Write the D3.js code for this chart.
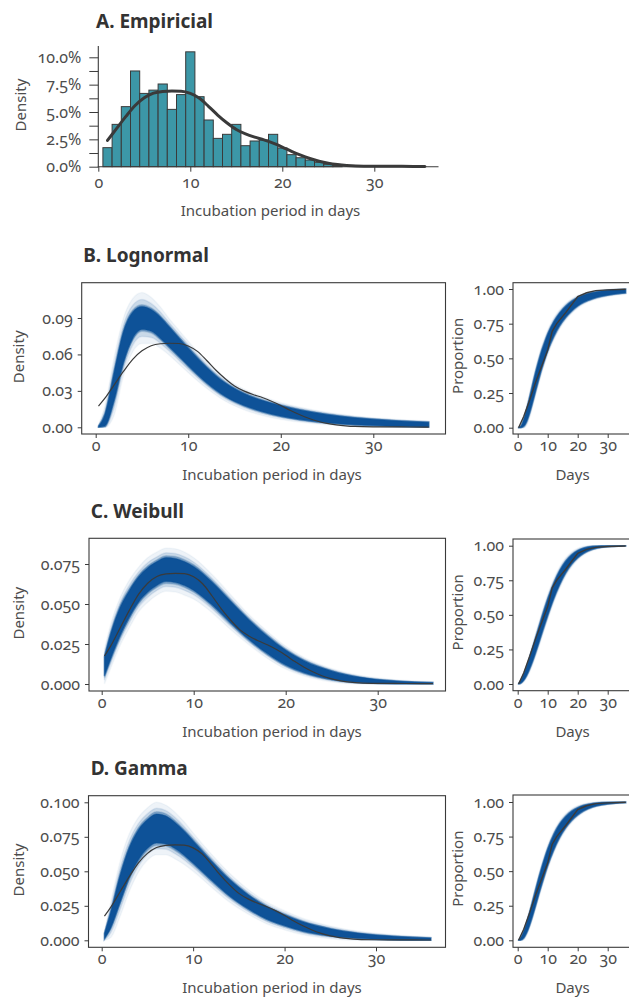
<!DOCTYPE html>
<html>
<head>
<meta charset="utf-8">
<script src="https://cdn.jsdelivr.net/npm/d3@7"></script>
<style>
  body { margin: 0; background: #fff; }
  svg { display: block; font-family: "Noto Sans", sans-serif; font-variant-numeric: oldstyle-nums; }
</style>
</head>
<body>
<svg id="chart" width="629" height="997"></svg>
<script>

// ---- data ----

// A. histogram, one-day bins centred on day 1..26 (percent of cases)
var histDays = d3.range(1, 27);
var histPct = [1.74, 3.87, 5.49, 8.75, 6.7, 7.0, 7.56, 5.24, 6.59, 10.5, 6.4, 4.27, 2.59,
               2.96, 3.87, 1.92, 2.35, 2.44, 2.96, 1.71, 1.1, 0.82, 0.61, 0.4, 0.22, 0.1];

// kernel density of the observed incubation periods (black line)
var kdeDays = [0.3, 1, 2, 3, 4, 5, 6, 7, 8, 9, 10, 11, 12, 13, 14, 15, 16, 17, 18, 19, 20,
               21, 22, 23, 24, 25, 26, 27, 28, 30, 33, 35.5, 36];
var kdeVals = [0.0175, 0.024, 0.035, 0.046, 0.056, 0.063, 0.0672, 0.0688, 0.0692, 0.069, 0.067,
               0.0625, 0.055, 0.047, 0.040, 0.034, 0.030, 0.027, 0.0245, 0.0215, 0.018,
               0.014, 0.0105, 0.0075, 0.005, 0.0032, 0.002, 0.0012, 0.0007, 0.0004, 0.0003,
               0.0002, 0.0002];

// observed cumulative proportion (black line, right panels)
var ecdfDays = [0.3, 2, 4, 6, 8, 10, 11.5, 13, 16, 20, 23, 26, 30, 36];
var ecdfVals = [0, 0.08, 0.2, 0.33, 0.445, 0.56, 0.695, 0.75, 0.83, 0.945, 0.973, 0.988, 0.994, 0.998];

// fitted posterior curves: centre of the dense band, half width of the dense band,
// half width of the faint halo
var modelDays = [0.3, 1, 2, 3, 4, 5, 6, 7, 8, 9, 10, 12, 14, 16, 18, 20, 22, 25, 28, 32, 36];

var lnPdfMid   = [0.000, 0.006, 0.034, 0.066, 0.084, 0.090, 0.088, 0.082, 0.074, 0.066, 0.058, 0.043,
                  0.031, 0.023, 0.0175, 0.0135, 0.0105, 0.0072, 0.005, 0.0033, 0.0022];
var lnPdfInner = [0.001, 0.005, 0.012, 0.013, 0.011, 0.0095, 0.009, 0.0088, 0.0083, 0.0078, 0.0074,
                  0.0065, 0.0056, 0.005, 0.0047, 0.0044, 0.004, 0.0034, 0.0029, 0.0024, 0.002];
var lnPdfOuter = [0.002, 0.012, 0.024, 0.024, 0.022, 0.021, 0.019, 0.017, 0.015, 0.014, 0.013, 0.011,
                  0.0095, 0.0085, 0.0078, 0.007, 0.0062, 0.0052, 0.0044, 0.0036, 0.003];
var lnCdfMid   = [0.000, 0.004, 0.035, 0.09, 0.165, 0.25, 0.335, 0.415, 0.49, 0.555, 0.615, 0.71,
                  0.782, 0.836, 0.877, 0.908, 0.93, 0.952, 0.966, 0.978, 0.985];
var lnCdfInner = [0.002, 0.006, 0.025, 0.045, 0.058, 0.065, 0.068, 0.068, 0.066, 0.063, 0.06, 0.053,
                  0.046, 0.04, 0.035, 0.03, 0.026, 0.022, 0.019, 0.016, 0.014];
var lnCdfOuter = [0.004, 0.015, 0.045, 0.075, 0.092, 0.1, 0.103, 0.103, 0.1, 0.096, 0.091, 0.081,
                  0.07, 0.061, 0.053, 0.046, 0.04, 0.034, 0.029, 0.025, 0.022];

var wbPdfMid   = [0.011, 0.024, 0.039, 0.050, 0.059, 0.065, 0.069, 0.0715, 0.071, 0.069, 0.066, 0.0565,
                  0.045, 0.034, 0.0245, 0.0165, 0.0108, 0.0055, 0.0026, 0.0009, 0.0003];
var wbPdfInner = [0.006, 0.008, 0.009, 0.0085, 0.008, 0.0077, 0.0075, 0.0075, 0.0075, 0.0075, 0.0075,
                  0.0072, 0.0068, 0.0062, 0.0055, 0.0047, 0.0038, 0.0027, 0.0017, 0.001, 0.0006];
var wbPdfOuter = [0.011, 0.014, 0.015, 0.015, 0.014, 0.014, 0.0135, 0.0135, 0.0135, 0.0135, 0.013,
                  0.012, 0.011, 0.0095, 0.0085, 0.0072, 0.0058, 0.0042, 0.0028, 0.0017, 0.0011];
var wbCdfMid   = [0.0015, 0.015, 0.048, 0.095, 0.152, 0.215, 0.283, 0.352, 0.422, 0.49, 0.555, 0.673,
                  0.770, 0.846, 0.901, 0.939, 0.964, 0.985, 0.994, 0.998, 1.0];
var wbCdfInner = [0.003, 0.01, 0.022, 0.033, 0.042, 0.049, 0.054, 0.057, 0.059, 0.06, 0.06, 0.056,
                  0.05, 0.042, 0.034, 0.026, 0.019, 0.011, 0.006, 0.003, 0.002];
var wbCdfOuter = [0.005, 0.016, 0.035, 0.052, 0.066, 0.077, 0.085, 0.09, 0.093, 0.094, 0.094, 0.088,
                  0.079, 0.067, 0.055, 0.043, 0.032, 0.02, 0.011, 0.006, 0.004];

var gmPdfMid   = [0.003, 0.015, 0.037, 0.056, 0.069, 0.077, 0.081, 0.080, 0.076, 0.0705, 0.064, 0.0505,
                  0.038, 0.028, 0.020, 0.0145, 0.010, 0.0058, 0.0033, 0.0016, 0.0008];
var gmPdfInner = [0.002, 0.006, 0.01, 0.011, 0.011, 0.0105, 0.0105, 0.0102, 0.0095, 0.0088, 0.0082,
                  0.007, 0.006, 0.0052, 0.0046, 0.004, 0.0034, 0.0026, 0.0019, 0.0013, 0.0009];
var gmPdfOuter = [0.004, 0.013, 0.02, 0.021, 0.02, 0.019, 0.019, 0.018, 0.017, 0.0155, 0.014, 0.012,
                  0.0105, 0.009, 0.008, 0.007, 0.006, 0.0046, 0.0034, 0.0024, 0.0017];
var gmCdfMid   = [0.0003, 0.01, 0.04, 0.092, 0.158, 0.233, 0.312, 0.39, 0.465, 0.535, 0.6, 0.709,
                  0.793, 0.855, 0.901, 0.933, 0.956, 0.977, 0.988, 0.995, 0.998];
var gmCdfInner = [0.002, 0.009, 0.024, 0.037, 0.047, 0.054, 0.058, 0.06, 0.061, 0.061, 0.06, 0.055,
                  0.048, 0.04, 0.033, 0.026, 0.02, 0.013, 0.009, 0.005, 0.003];
var gmCdfOuter = [0.004, 0.015, 0.038, 0.057, 0.071, 0.08, 0.086, 0.089, 0.091, 0.091, 0.089, 0.082,
                  0.072, 0.061, 0.051, 0.041, 0.032, 0.022, 0.015, 0.009, 0.006];

// tick labels
var dayTicks = [0, 10, 20, 30];
var pctTicks = d3.range(0, 0.1001, 0.0125);
var propTicks = [0, 0.25, 0.5, 0.75, 1];
var lnTicks = [0, 0.03, 0.06, 0.09];
var wbTicks = [0, 0.025, 0.05, 0.075];
var gmTicks = [0, 0.025, 0.05, 0.075, 0.1];


// ---- drawing ----

var svg = d3.select("#chart");
var BLUE = "#0a5096", TEAL = "#3c97a7", INK = "#3a3a3a", GREY = "#4d4d4d";

function heading(txt, x, y) {
  svg.append("text").attr("x", x).attr("y", y)
     .attr("font-size", 19).attr("font-weight", 700).attr("fill", "#333")
     .text(txt);
}

function xTitle(txt, cx, y) {
  svg.append("text").attr("x", cx).attr("y", y).attr("text-anchor", "middle")
     .attr("font-size", 15).attr("fill", GREY).text(txt);
}

function yTitle(txt, x, cy) {
  svg.append("text").attr("transform", "translate(" + x + "," + cy + ") rotate(-90)")
     .attr("text-anchor", "middle").attr("font-size", 15).attr("fill", GREY).text(txt);
}

function styleAxis(g) {
  g.select(".domain").remove();
  g.selectAll(".tick line").attr("stroke", INK);
  g.selectAll(".tick text").attr("fill", GREY).attr("font-size", 16)
   .attr("font-family", "Noto Sans, sans-serif");
}

function drawAxes(box, x, y, yVals, yFmt) {
  var gy = svg.append("g").attr("transform", "translate(" + box[0] + ",0)")
    .call(d3.axisLeft(y).tickValues(yVals).tickFormat(yFmt).tickSize(4).tickPadding(5));
  styleAxis(gy);
  var gx = svg.append("g").attr("transform", "translate(0," + box[3] + ")")
    .call(d3.axisBottom(x).tickValues(dayTicks).tickFormat(d3.format("d")).tickSize(4));
  styleAxis(gx);
  gx.selectAll(".tick text").attr("y", 17).attr("dy", null);
}

function band(g, x, y, mid, spread, top, opacity) {
  var area = d3.area()
    .x(function(d, i) { return x(modelDays[i]); })
    .y0(function(d, i) { return y(Math.max(0, mid[i] - spread[i])); })
    .y1(function(d, i) { return y(Math.min(top, mid[i] + spread[i])); })
    .curve(d3.curveMonotoneX);
  g.append("path").datum(mid).attr("d", area)
   .attr("fill", BLUE).attr("fill-opacity", opacity)
   .attr("stroke", BLUE).attr("stroke-opacity", opacity * 0.5).attr("stroke-width", 1.5);
}

// many overlapping posterior draws: faint halo, softer rim, solid core
function ensemble(x, y, mid, inner, outer) {
  var g = svg.append("g");
  band(g, x, y, mid, outer, 1, 0.07);
  band(g, x, y, mid, inner.map(function(v, i) { return (v + outer[i]) / 2; }), 1, 0.16);
  band(g, x, y, mid, inner.map(function(v, i) { return v * 1.15; }), 1, 0.35);
  band(g, x, y, mid, inner, 1, 0.97);
  return g;
}

function frame(box) {
  svg.append("rect").attr("x", box[0]).attr("y", box[1])
     .attr("width", box[2] - box[0]).attr("height", box[3] - box[1])
     .attr("fill", "none").attr("stroke", INK).attr("stroke-width", 1.1);
}

// A. Empirical histogram
(function() {
  var x = d3.scaleLinear().domain([0, 30]).range([98.3, 374.3]);
  var y = d3.scaleLinear().domain([0, 0.10]).range([166.7, 57.3]);

  svg.append("g").selectAll("rect").data(histPct).join("rect")
     .attr("x", function(d, i) { return x(histDays[i] - 0.5); })
     .attr("width", function(d, i) { return x(histDays[i] + 0.5) - x(histDays[i] - 0.5); })
     .attr("y", function(d) { return y(d / 100); })
     .attr("height", function(d) { return y(0) - y(d / 100); })
     .attr("fill", TEAL).attr("stroke", INK).attr("stroke-width", 1);

  var pts = kdeDays.map(function(d, i) { return [d, kdeVals[i]]; })
                   .filter(function(p) { return p[0] >= 1 && p[0] <= 35.5; });
  svg.append("path").datum(pts)
     .attr("d", d3.line().x(function(p) { return x(p[0]); }).y(function(p) { return y(p[1]); })
                 .curve(d3.curveMonotoneX))
     .attr("fill", "none").attr("stroke", INK).attr("stroke-width", 3).attr("stroke-linecap", "round");

  var pctFmt = d3.format(".1%");
  var gy = svg.append("g").attr("transform", "translate(98.3,0)")
    .call(d3.axisLeft(y).tickValues(pctTicks)
            .tickFormat(function(d, i) { return i % 2 ? "" : pctFmt(d); })
            .tickSize(9).tickPadding(8));
  styleAxis(gy);
  var gx = svg.append("g").attr("transform", "translate(0,166.7)")
    .call(d3.axisBottom(x).tickValues(dayTicks).tickFormat(d3.format("d")).tickSize(5));
  styleAxis(gx);
  gx.selectAll(".tick text").attr("y", 21.6).attr("dy", null);

  svg.append("line").attr("x1", 98.3).attr("x2", 98.3).attr("y1", 46).attr("y2", 167.2)
     .attr("stroke", INK).attr("stroke-width", 1.1);
  svg.append("line").attr("x1", 97.8).attr("x2", 438.5).attr("y1", 166.7).attr("y2", 166.7)
     .attr("stroke", INK).attr("stroke-width", 1.1);

  heading("A. Empiricial", 96, 28.3);
  yTitle("Density", 25.5, 105);
  xTitle("Incubation period in days", 270.5, 216);
})();

// B, C, D: fitted distributions
var panels = [
  { name: "B. Lognormal", head: [83.3, 261.7],
    left: [81.7, 282.7, 445.5, 434], lx: [95.7, 373.3], ly: [427.3, 318], lv: 0.09,
    right: [513, 282.7, 632, 434], ry: [427.7, 289],
    ticks: lnTicks, fmt: ".2f", pdf: [lnPdfMid, lnPdfInner, lnPdfOuter], cdf: [lnCdfMid, lnCdfInner, lnCdfOuter] },
  { name: "C. Weibull", head: [90.7, 518.3],
    left: [89, 538.3, 445.5, 691], lx: [101.7, 377.7], ly: [684, 564], lv: 0.075,
    right: [513, 539, 632, 690.7], ry: [684, 545.7],
    ticks: wbTicks, fmt: ".3f", pdf: [wbPdfMid, wbPdfInner, wbPdfOuter], cdf: [wbCdfMid, wbCdfInner, wbCdfOuter] },
  { name: "D. Gamma", head: [90.7, 775],
    left: [88.5, 795.7, 445.5, 947.3], lx: [101.7, 376], ly: [940.3, 802.3], lv: 0.1,
    right: [513, 795, 632, 947.3], ry: [940.3, 802],
    ticks: gmTicks, fmt: ".3f", pdf: [gmPdfMid, gmPdfInner, gmPdfOuter], cdf: [gmCdfMid, gmCdfInner, gmCdfOuter] }
];

panels.forEach(function(p) {
  // density panel
  var x = d3.scaleLinear().domain([0, 30]).range(p.lx);
  var y = d3.scaleLinear().domain([0, p.lv]).range(p.ly);
  ensemble(x, y, p.pdf[0], p.pdf[1], p.pdf[2]);
  svg.append("path").datum(kdeDays)
     .attr("d", d3.line().x(function(d) { return x(d); })
                 .y(function(d, i) { return y(kdeVals[i]); }).curve(d3.curveMonotoneX))
     .attr("fill", "none").attr("stroke", INK).attr("stroke-width", 1.2);
  frame(p.left);
  drawAxes(p.left, x, y, p.ticks, d3.format(p.fmt));
  heading(p.name, p.head[0], p.head[1]);
  yTitle("Density", 23.5, (p.left[1] + p.left[3]) / 2 - 1.5);
  xTitle("Incubation period in days", 272, p.left[3] + 45.5);

  // cumulative panel
  var xr = d3.scaleLinear().domain([0, 30]).range([517.7, 607.7]);
  var yr = d3.scaleLinear().domain([0, 1]).range(p.ry);
  ensemble(xr, yr, p.cdf[0], p.cdf[1], p.cdf[2]);
  svg.append("path").datum(ecdfDays)
     .attr("d", d3.line().x(function(d) { return xr(d); }).y(function(d, i) { return yr(ecdfVals[i]); }))
     .attr("fill", "none").attr("stroke", INK).attr("stroke-width", 1.4);
  frame(p.right);
  drawAxes(p.right, xr, yr, propTicks, d3.format(".2f"));
  yTitle("Proportion", 462.5, (p.right[1] + p.right[3]) / 2 - 2.5);
  xTitle("Days", 572.5, p.right[3] + 46);
});

</script>
</body>
</html>
